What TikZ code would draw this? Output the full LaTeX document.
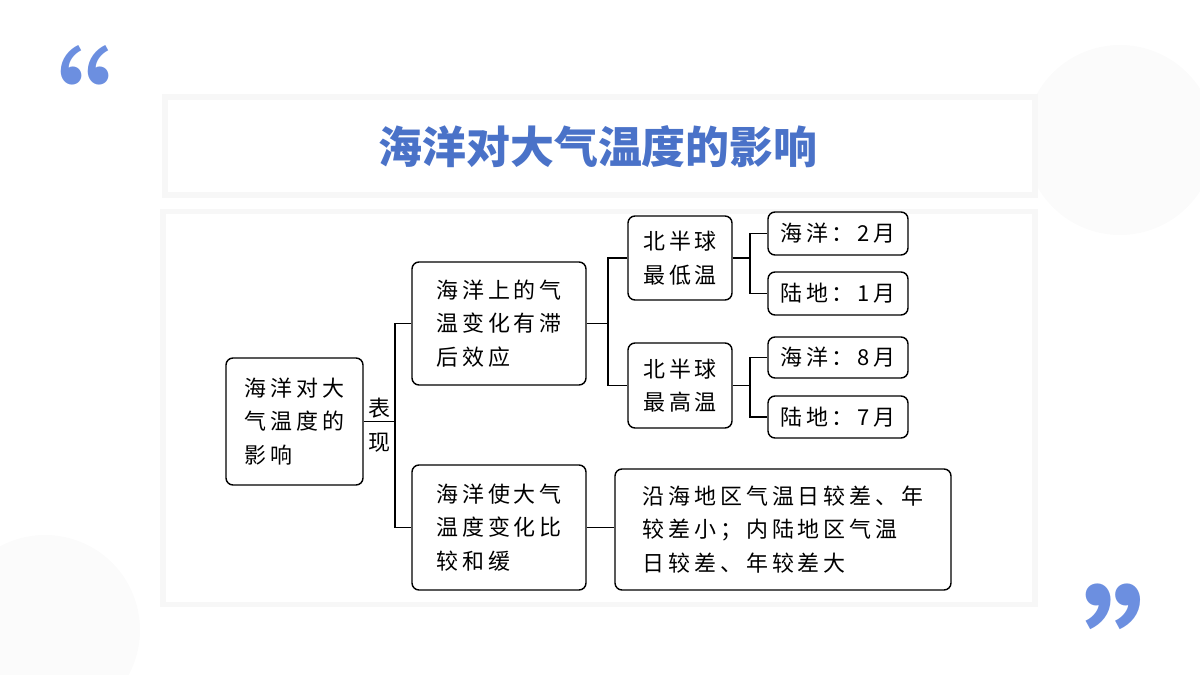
\documentclass[tikz,border=0pt]{standalone}
\usepackage{fontspec}
\setmainfont{Noto Sans CJK SC}
\definecolor{titleblue}{HTML}{4A72C8}
\definecolor{quoteblue}{HTML}{6C8FE0}
\tikzset{
  box/.style={draw, rounded corners=4pt, line width=0.8pt, inner sep=0pt, align=left, font=\fontsize{12.5}{19}\selectfont\addfontfeature{LetterSpace=18}},
  panel/.style={fill=white, draw=gray!6, line width=3pt},
  link/.style={line width=0.8pt}
}
\begin{document}
\begin{tikzpicture}[x=0.02cm, y=-0.02cm]
\useasboundingbox (0,0) rectangle (1200,675);
% background
\fill[gray!3] (1120,140) circle (95);
\fill[gray!3] (45,630) circle (95);
\node[text=quoteblue, font=\fontsize{80}{80}\selectfont] (lq) at (44,105) {“};
\node[text=quoteblue, font=\fontsize{80}{80}\selectfont\bfseries] (rq) at (1154,644) {”};
% panels
\node[panel, minimum width=870*0.02cm, minimum height=98*0.02cm] (titlebox) at (600,146) {};
\node[text=titleblue, font=\fontsize{25}{25}\selectfont\bfseries] (title) at (598,147) {海洋对大气温度的影响};
\node[panel, minimum width=872*0.02cm, minimum height=393*0.02cm] (panel) at (599,408) {};
% nodes
\node[box, minimum width=137*0.02cm, minimum height=127*0.02cm] (root) at (294.5,421.5) {海洋对大\\气温度的\\影响};
\node[font=\fontsize{12.5}{19}\selectfont, align=center] (bx) at (379,425) {表\\现};
\node[box, minimum width=174*0.02cm, minimum height=123*0.02cm] (lag) at (499,323.5) {海洋上的气\\温变化有滞\\后效应};
\node[box, minimum width=174*0.02cm, minimum height=125*0.02cm] (mild) at (499,527.5) {海洋使大气\\温度变化比\\较和缓};
\node[box, minimum width=104*0.02cm, minimum height=84*0.02cm] (low) at (680,258) {北半球\\最低温};
\node[box, minimum width=104*0.02cm, minimum height=85*0.02cm] (high) at (680,385.5) {北半球\\最高温};
\node[box, minimum width=140*0.02cm, minimum height=43*0.02cm] (seaa) at (838,233.5) {海洋：2月};
\node[box, minimum width=140*0.02cm, minimum height=43*0.02cm] (landa) at (838,293.5) {陆地：1月};
\node[box, minimum width=140*0.02cm, minimum height=41*0.02cm] (seab) at (838,357.5) {海洋：8月};
\node[box, minimum width=140*0.02cm, minimum height=42*0.02cm] (landb) at (838,417) {陆地：7月};
\node[box, minimum width=336*0.02cm, minimum height=121*0.02cm] (diff) at (783,529.5) {沿海地区气温日较差、年\\较差小；内陆地区气温\\日较差、年较差大};
% connectors
\coordinate (j1) at (395,420);
\coordinate (j2) at (608,320);
\coordinate (j3) at (750,258);
\coordinate (j4) at (750,386);
\draw[link] (root.east) -- (root.east -| j1);
\draw[link] (lag.west) -| (j1) |- (mild.west);
\draw[link] (lag.east) -- (lag.east -| j2);
\draw[link] (low.west) -| (j2) |- (high.west);
\draw[link] (low.east) -- (low.east -| j3);
\draw[link] (seaa.west) -| (j3) |- (landa.west);
\draw[link] (high.east) -- (high.east -| j4);
\draw[link] (seab.west) -| (j4) |- (landb.west);
\draw[link] (mild.east) -- (mild.east -| diff.west);
\end{tikzpicture}
\end{document}
